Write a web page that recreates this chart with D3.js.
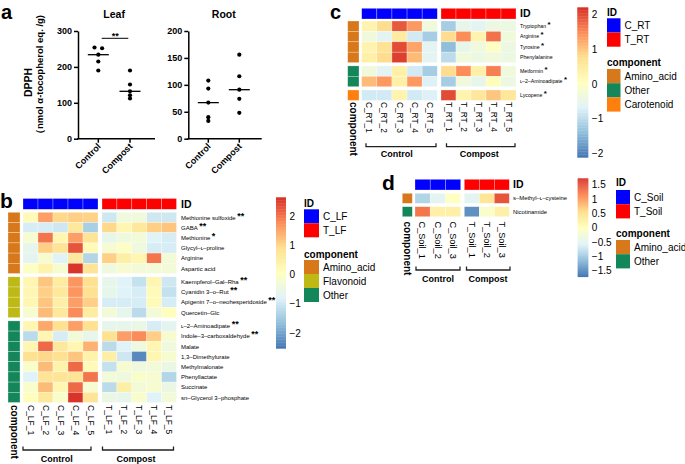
<!DOCTYPE html>
<html><head><meta charset="utf-8">
<script src="https://cdn.jsdelivr.net/npm/d3@7"></script>
<style>body{margin:0;background:#fff}svg{display:block}text{font-family:"Liberation Sans",Arial,Helvetica,sans-serif}</style>
</head><body><svg id="c" width="685" height="464"></svg>
<script>
// ---------------- DATA ----------------
// Panel a
const groupsA = ["Control", "Compost"];
const leafControl = [254, 252, 234, 215, 190];
const leafCompost = [190, 151, 132, 121, 112];
const rootControl = [108, 93, 67, 40, 33];
const rootCompost = [156, 116, 91, 74, 48];
const leafTicks = [0, 100, 200, 300];
const rootTicks = [0, 50, 100, 150, 200];

// Shared heatmap colours
const heatColors = ["#4575B4", "#91BFDB", "#E0F3F8", "#FFFFBF", "#FEE090", "#FC8D59", "#D73027"];
const compColors = {Amino_acid: "#D7781A", Flavonoid: "#BEB914", Other: "#14875A", Carotenoid: "#FF7F0E"};
const idColors = ["#0000FF", "#FF0000"];
const treatLabels = ["Control", "Compost"];

// Panel b
const bCols = ["C_LF_1","C_LF_2","C_LF_3","C_LF_4","C_LF_5","T_LF_1","T_LF_2","T_LF_3","T_LF_4","T_LF_5"];
const bIds = ["C_LF", "T_LF"];
const bRows = ["Methionine sulfoxide","GABA","Methionine","Glycyl–ʟ–proline","Arginine","Aspartic acid",
  "Kaempferol–Gal–Rha","Cyanidin 3–ᴏ–Rut","Apigenin 7–ᴏ–neohesperidoside","Quercetin–Glc",
  "ʟ–2–Aminoadipate","Indole–3–carboxaldehyde","Malate","1,3–Dimethylurate","Methylmalonate","Phenyllactate","Succinate","sn–Glycerol 3–phosphate"];
const bStars = ["**","**","*","","","","**","**","**","","**","**","","","","","",""];
const bGroups = ["Amino_acid","Amino_acid","Amino_acid","Amino_acid","Amino_acid","Amino_acid",
  "Flavonoid","Flavonoid","Flavonoid","Flavonoid","Other","Other","Other","Other","Other","Other","Other","Other"];
const bValues = [
  [0.2,1.6,1.0,1.1,1.05,-1.0,-0.4,-0.35,-1.0,-1.0],
  [-0.9,-0.9,-1.0,0.7,-1.4,1.0,0.3,0.7,1.1,1.2],
  [-0.2,2.0,0.3,1.6,0.8,-0.6,-0.4,-0.3,-0.8,-0.9],
  [-0.6,1.1,0.8,2.3,0.2,-0.2,0.0,-0.4,-0.9,-0.9],
  [-0.7,-0.2,-0.8,0.7,-1.3,1.1,0.5,0.3,2.0,-0.3],
  [0.0,0.4,-0.2,2.6,0.8,-0.4,-0.2,-0.3,-0.3,-0.3],
  [0.3,1.2,0.6,1.7,0.9,-0.6,-0.8,-1.1,0.3,-1.0],
  [0.3,1.1,0.7,1.7,0.9,-0.6,-0.8,-0.9,0.2,-1.1],
  [0.3,1.2,0.5,1.6,1.1,-0.9,-0.9,-0.9,0.2,-0.9],
  [-0.2,1.3,0.7,1.8,0.6,-0.3,-0.6,-1.2,-0.3,0.1],
  [0.3,1.5,0.9,1.6,0.9,-0.6,-0.6,-0.5,-0.9,-0.7],
  [-1.2,0.3,-0.9,-0.3,-0.6,0.9,1.6,1.8,1.1,-0.2],
  [0.3,2.1,0.7,0.3,1.4,-1.2,-0.8,-0.4,0.3,-0.4],
  [0.9,1.0,0.9,1.2,0.4,0.5,-1.0,-2.3,0.3,-0.2],
  [-0.1,1.3,0.4,2.1,0.2,-1.1,-0.2,-0.4,-0.3,-0.5],
  [-0.8,0.8,0.8,0.8,2.0,-0.3,-0.4,-0.1,-0.2,-1.3],
  [-0.1,1.3,0.3,2.1,-0.2,-1.2,0.5,-0.3,-0.2,-0.5],
  [0.1,0.7,-0.1,2.6,0.8,-0.5,-0.6,-0.1,-0.8,-0.3]
];
const bRange = [-2.52, 2.64];
const bTicks = [-2, -1, 0, 1, 2];
const bCompLegend = ["Amino_acid", "Flavonoid", "Other"];

// Panel c
const cCols = ["C_RT_1","C_RT_2","C_RT_3","C_RT_4","C_RT_5","T_RT_1","T_RT_2","T_RT_3","T_RT_4","T_RT_5"];
const cIds = ["C_RT", "T_RT"];
const cRows = ["Tryptophan","Arginine","Tyrosine","Phenylalanine","Metformin","ʟ–2–Aminoadipate","Lycopene"];
const cStars = ["*","*","*","","*","*","*"];
const cGroups = ["Amino_acid","Amino_acid","Amino_acid","Amino_acid","Other","Other","Carotenoid"];
const cValues = [
  [0.3,0.8,1.9,1.4,-0.3,-1.2,-0.5,-0.6,-0.4,-0.4],
  [-0.3,-0.6,0.5,-0.8,-1.2,0.8,1.5,0.3,1.7,-0.3],
  [0.3,0.7,2.0,1.3,-0.6,-1.4,-0.5,-0.3,0.0,-0.4],
  [0.4,0.8,2.1,1.1,-0.6,-1.0,-0.3,-0.4,-0.3,-0.4],
  [-0.3,-0.6,0.4,-0.8,-1.2,0.8,1.5,0.4,1.6,-0.3],
  [1.1,1.4,0.4,1.4,-0.7,-1.2,-0.3,-0.5,0.1,-0.4],
  [-0.8,-0.8,0.3,-0.8,-0.7,2.0,0.3,0.6,1.0,0.6]
];
const cRange = [-2.12, 2.22];
const cTicks = [-2, -1, 0, 1, 2];
const cCompLegend = ["Amino_acid", "Other", "Carotenoid"];

// Panel d
const dCols = ["C_Soil_1","C_Soil_2","C_Soil_3","T_Soil_1","T_Soil_2","T_Soil_3"];
const dIds = ["C_Soil", "T_Soil"];
const dRows = ["s–Methyl–ʟ–cysteine", "Nicotinamide"];
const dStars = ["", ""];
const dGroups = ["Amino_acid", "Other"];
const dValues = [
  [-0.9,-0.5,0.0,-0.5,0.5,1.5],
  [1.3,0.3,0.3,-1.5,-0.1,0.3]
];
const dRange = [-1.7, 1.73];
const dTicks = [-1.5, -1, -0.5, 0, 0.5, 1, 1.5];
const dCompLegend = ["Amino_acid", "Other"];

// ---------------- DRAWING ----------------
const svg = d3.select("#c");
function txt(g, x, y, s, o = {}) {
  const t = g.append("text").attr("x", x).attr("y", y).text(s)
    .attr("font-size", o.size || 10).attr("font-weight", o.bold ? "bold" : "normal")
    .attr("text-anchor", o.anchor || "start").attr("fill", "#000");
  if (o.rotate != null) t.attr("transform", `rotate(${o.rotate},${x},${y})`);
  if (o.dy) t.attr("dy", o.dy);
  return t;
}

// panel letters
txt(svg, 1, 18.5, "a", {size: 20, bold: true});
txt(svg, 0, 208, "b", {size: 21, bold: true});
txt(svg, 330, 18.5, "c", {size: 20, bold: true});
txt(svg, 382, 190, "d", {size: 21, bold: true});

// ---- panel a
function dotPanel(cfg) {
  const g = svg.append("g");
  const y = d3.scaleLinear().domain([0, cfg.max]).range([138.7, 31]);
  const x = d3.scalePoint().domain(groupsA).range(cfg.xr);
  const ax = g.append("g").attr("transform", `translate(${cfg.ax},0)`)
    .call(d3.axisLeft(y).tickValues(cfg.ticks).tickSize(4).tickSizeOuter(0).tickPadding(2));
  ax.select(".domain").attr("stroke-width", 1.5);
  ax.selectAll(".tick line").attr("stroke-width", 1.5);
  ax.selectAll("text").attr("font-size", 9).attr("font-weight", "bold").attr("fill", "#000")
    .attr("font-family", '"Liberation Sans",Arial,sans-serif');
  g.append("line").attr("x1", cfg.ax - 0.75).attr("x2", cfg.axEnd).attr("y1", y(0)).attr("y2", y(0))
    .attr("stroke", "#000").attr("stroke-width", 1.5);
  groupsA.forEach((k, i) => {
    g.append("line").attr("x1", x(k)).attr("x2", x(k)).attr("y1", y(0)).attr("y2", y(0) + 4)
      .attr("stroke", "#000").attr("stroke-width", 1.5);
    txt(g, x(k) + 3, 147, k, {size: 9, bold: true, anchor: "end", rotate: -45});
    const vals = cfg.data[i];
    const offs = vals.map(() => 0);
    for (let a = 0; a < vals.length; a++) for (let b = a + 1; b < vals.length; b++) {
      if (Math.abs(y(vals[a]) - y(vals[b])) < 3 && offs[a] === 0 && offs[b] === 0) { offs[a] = -3.8; offs[b] = 3.8; }
    }
    g.selectAll(null).data(vals).join("circle")
      .attr("cx", (d, j) => x(k) + offs[j]).attr("cy", d => y(d)).attr("r", 2.1).attr("fill", "#000");
    const med = d3.median(vals);
    g.append("line").attr("x1", x(k) - 10.5).attr("x2", x(k) + 10.5).attr("y1", y(med)).attr("y2", y(med))
      .attr("stroke", "#000").attr("stroke-width", 1.3);
  });
  txt(g, (x(groupsA[0]) + x(groupsA[1])) / 2, 18, cfg.title, {size: 10.5, bold: true, anchor: "middle"});
  if (cfg.sig) {
    g.append("line").attr("x1", x(groupsA[0]) + 3.4).attr("x2", x(groupsA[1]) - 1.7).attr("y1", 38.3).attr("y2", 38.3)
      .attr("stroke", "#000").attr("stroke-width", 1);
    txt(g, (x(groupsA[0]) + x(groupsA[1])) / 2 + 1, 38.5, cfg.sig, {size: 9, bold: true, anchor: "middle"});
  }
}
dotPanel({title: "Leaf", max: 300, ticks: leafTicks, data: [leafControl, leafCompost], ax: 78, axEnd: 155, xr: [98.3, 130], sig: "**"});
dotPanel({title: "Root", max: 200, ticks: rootTicks, data: [rootControl, rootCompost], ax: 188.3, axEnd: 261.7, xr: [208.3, 239.3]});
txt(svg, 32, 82.5, "DPPH", {size: 10.5, bold: true, anchor: "middle", rotate: -90});
txt(svg, 42.5, 77, "（nmol α-tocopherol eq. /g)", {size: 9.5, bold: true, anchor: "middle", rotate: -90});

// ---- heatmaps
function heatmap(cfg) {
  const g = svg.append("g");
  const n = cfg.cols.length / 2;
  const xC = d3.scaleBand().domain(cfg.cols.slice(0, n)).range(cfg.xCtrl);
  const xT = d3.scaleBand().domain(cfg.cols.slice(n)).range(cfg.xTrt);
  const colX = (c, j) => j < n ? xC(c) : xT(c);
  const bw = j => j < n ? xC.bandwidth() : xT.bandwidth();
  const [lo, hi] = cfg.range;
  const color = d3.scaleLinear().domain(heatColors.map((_, i) => lo + (hi - lo) * i / 6)).range(heatColors);
  const stroke = "rgba(255,255,255,0.45)";
  const gnames = [...new Set(cfg.groups)];
  const rowY = [];
  let yy = cfg.y0;
  gnames.forEach(gn => {
    const idx = cfg.groups.map((gg, i) => gg === gn ? i : -1).filter(i => i >= 0);
    const sc = d3.scaleBand().domain(idx).range([yy, yy + idx.length * cfg.rh]);
    idx.forEach(i => rowY[i] = sc(i));
    yy += idx.length * cfg.rh + cfg.gapY;
  });
  cfg.values.forEach((row, i) => {
    row.forEach((v, j) => {
      g.append("rect").attr("x", colX(cfg.cols[j], j)).attr("y", rowY[i]).attr("width", bw(j)).attr("height", cfg.rh)
        .attr("fill", color(v)).attr("stroke", stroke).attr("stroke-width", 0.6);
    });
    g.append("rect").attr("x", cfg.compX[0]).attr("y", rowY[i]).attr("width", cfg.compX[1] - cfg.compX[0]).attr("height", cfg.rh)
      .attr("fill", compColors[cfg.groups[i]]).attr("stroke", stroke).attr("stroke-width", 0.6);
    const t = txt(g, cfg.labX, rowY[i] + cfg.rh / 2, cfg.rows[i], {size: cfg.rowSize, dy: "0.35em"});
    if (cfg.stars[i]) t.append("tspan").attr("font-size", cfg.rowSize * 1.5).attr("font-weight", "bold").attr("dx", 1.5).attr("dy", -1).text(cfg.stars[i]);
  });
  cfg.cols.forEach((c, j) => {
    g.append("rect").attr("x", colX(c, j)).attr("y", cfg.idY[0]).attr("width", bw(j)).attr("height", cfg.idY[1] - cfg.idY[0])
      .attr("fill", idColors[j < n ? 0 : 1]).attr("stroke", stroke).attr("stroke-width", 0.6);
    const cx = colX(c, j) + bw(j) / 2;
    g.append("text").attr("transform", `translate(${cx},${cfg.colLabY}) rotate(90)`).attr("dy", "0.35em")
      .attr("font-size", cfg.colSize).text(c);
  });
  txt(g, cfg.labX, (cfg.idY[0] + cfg.idY[1]) / 2, "ID", {size: 10.5, bold: true, dy: "0.36em"});
  const ccx = (cfg.compX[0] + cfg.compX[1]) / 2;
  g.append("text").attr("transform", `translate(${ccx},${cfg.colLabY}) rotate(90)`).attr("dy", "0.35em")
    .attr("font-size", 10).attr("font-weight", "bold").text("component");
  cfg.brackets.forEach((br, k) => {
    g.append("path").attr("d", `M${br[0]},${cfg.brY - 3.5}V${cfg.brY}H${br[1]}V${cfg.brY - 3.5}`)
      .attr("fill", "none").attr("stroke", "#222").attr("stroke-width", 1.3);
    txt(g, cfg.brLab[k], cfg.brLabY, treatLabels[k], {size: 9, bold: true, anchor: "middle"});
  });
  const cy = d3.scaleLinear().domain([lo, hi]).range([cfg.cbY[1], cfg.cbY[0]]);
  const steps = d3.range(100).map(i => lo + (hi - lo) * i / 100);
  const st = (hi - lo) / 100;
  g.selectAll(null).data(steps).join("rect")
    .attr("x", cfg.cbX[0]).attr("width", cfg.cbX[1] - cfg.cbX[0])
    .attr("y", d => cy(d + st)).attr("height", d => cy(d) - cy(d + st) + 0.4)
    .attr("fill", d => color(d + st / 2));
  cfg.ticks.forEach(t => txt(g, cfg.cbX[1] + 3.5, cy(t), (t < 0 ? "−" : "") + Math.abs(t), {size: 10, dy: "0.35em"}));
  const L = cfg.leg;
  txt(g, L.x, L.idT, "ID", {size: 10, bold: true});
  cfg.ids.forEach((id, k) => {
    g.append("rect").attr("x", L.x).attr("y", L.idS + k * L.h).attr("width", L.w).attr("height", L.h).attr("fill", idColors[k]);
    txt(g, L.x + L.w + 4, L.idS + k * L.h + L.h / 2, id, {size: 10, dy: "0.35em"});
  });
  txt(g, L.x, L.cT, "component", {size: 10, bold: true});
  cfg.compLegend.forEach((cn, k) => {
    g.append("rect").attr("x", L.x).attr("y", L.cS + k * L.h).attr("width", L.w).attr("height", L.h).attr("fill", compColors[cn]);
    txt(g, L.x + L.w + 4, L.cS + k * L.h + L.h / 2, cn, {size: 10, dy: "0.35em"});
  });
}

heatmap({cols: bCols, ids: bIds, rows: bRows, stars: bStars, groups: bGroups, values: bValues, range: bRange, ticks: bTicks,
  compLegend: bCompLegend, xCtrl: [23, 98], xTrt: [102, 176.5], y0: 212.3, rh: 10.2, gapY: 3.3, idY: [198.5, 209.3],
  compX: [8, 20], labX: 181, rowSize: 6, colSize: 8.5, colLabY: 405,
  brackets: [[23, 91], [102.5, 173.5]], brY: 450, brLab: [56.7, 136], brLabY: 462,
  cbX: [276, 286], cbY: [197.3, 348.3],
  leg: {x: 304, w: 15, h: 14, idT: 206.5, idS: 209.3, cT: 257.5, cS: 260}});

heatmap({cols: cCols, ids: cIds, rows: cRows, stars: cStars, groups: cGroups, values: cValues, range: cRange, ticks: cTicks,
  compLegend: cCompLegend, xCtrl: [361.7, 437.3], xTrt: [441, 516], y0: 21, rh: 10.4, gapY: 3.3, idY: [8.3, 19],
  compX: [347.7, 359], labX: 520, rowSize: 5.2, colSize: 8.3, colLabY: 102,
  brackets: [[366, 436], [446.5, 515]], brY: 146.7, brLab: [396.7, 479.3], brLabY: 157,
  cbX: [577.3, 588.3], cbY: [7.3, 157.3],
  leg: {x: 607, w: 13.5, h: 14.2, idT: 15.5, idS: 18.3, cT: 65.5, cS: 69}});

heatmap({cols: dCols, ids: dIds, rows: dRows, stars: dStars, groups: dGroups, values: dValues, range: dRange, ticks: dTicks,
  compLegend: dCompLegend, xCtrl: [415, 460.7], xTrt: [464.3, 509.3], y0: 193.3, rh: 10, gapY: 3.4, idY: [179.3, 190],
  compX: [402.3, 412.3], labX: 513, rowSize: 5.9, colSize: 9.2, colLabY: 221.5,
  brackets: [[416, 460], [466.5, 510]], brY: 270, brLab: [438, 488], brLabY: 282,
  cbX: [577.7, 588.3], cbY: [178.3, 276.7],
  leg: {x: 616, w: 14, h: 14.2, idT: 186.3, idS: 190, cT: 236.5, cS: 240}});
</script></body></html>
